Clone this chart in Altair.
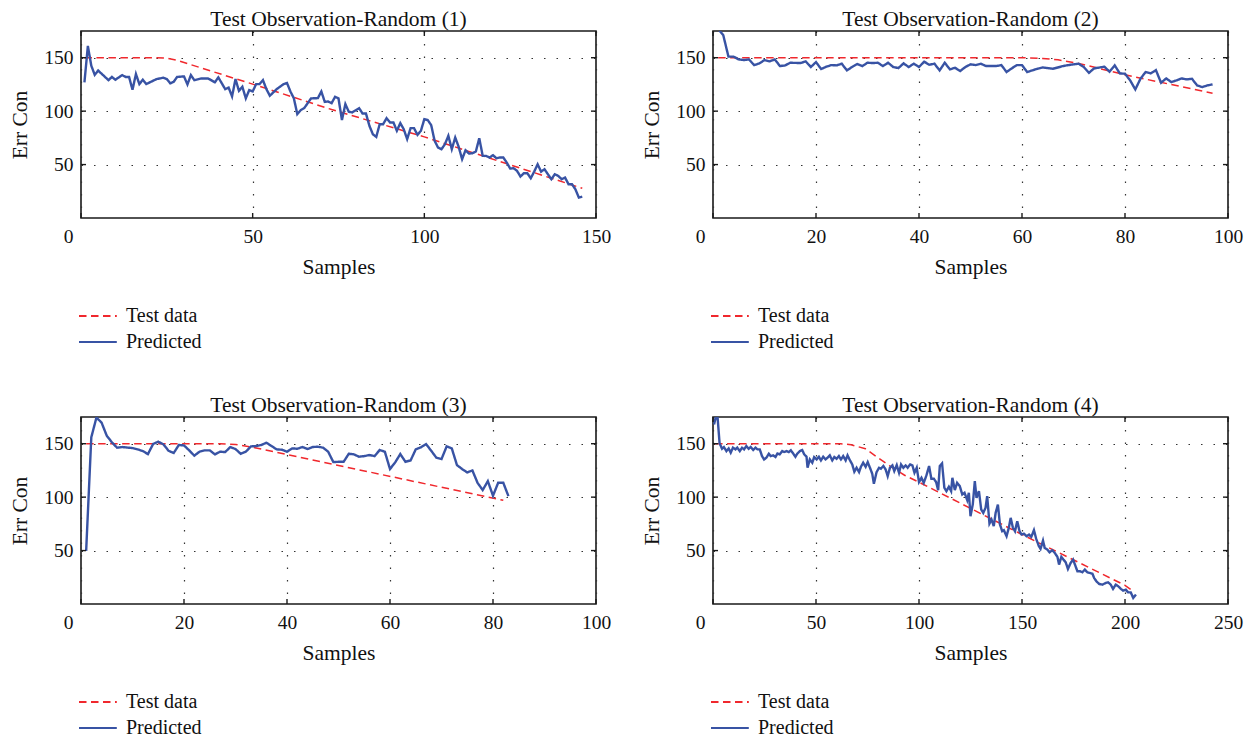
import altair as alt
import pandas as pd

FONT = "Liberation Serif"
RED = "#f0282d"
BLUE = "#3853a4"
SERIES = ["Test data", "Predicted"]
Y_TICKS = [50, 100, 150]
W, H = 515, 187

# ---------------- Panel 1 ----------------
P1_X = [1, 2, 3, 4, 5, 6, 8, 9, 10, 12, 13, 14, 15, 16, 17, 18, 19, 22, 24, 25, 26, 27, 28, 30, 31, 32, 33, 35, 37, 39,
        40, 42, 43, 44, 45, 46, 47, 48, 49, 50, 51, 52, 53, 54, 55, 57, 59, 60, 61, 62, 63, 64, 65, 67, 69, 70, 71, 72,
        73, 74, 75, 76, 77, 78, 79, 81, 82, 83, 84, 85, 86, 87, 88, 89, 90, 91, 92, 93, 94, 95, 96, 97, 98, 99, 100,
        101, 102, 103, 104, 105, 106, 107, 108, 109, 110, 111, 112, 113, 114, 115, 116, 117, 118, 119, 120, 121, 122,
        123, 124, 125, 126, 127, 128, 129, 130, 131, 132, 133, 134, 135, 136, 137, 138, 139, 140, 141, 142, 143, 144,
        145, 146]
P1_Y = [127, 161, 142.5, 134, 138, 135, 129, 132, 129.4, 133.7, 132, 132, 120, 134.7, 125.3, 129.4, 125.3, 130, 131.3,
        130, 126, 127.5, 132, 132.5, 125, 133.7, 129, 130.6, 130.6, 127, 131.6, 120.6, 122, 113.8, 130, 119, 122.8, 112,
        119.7, 118.4, 125.3, 125.3, 129, 120.6, 114.4, 120.6, 125.3, 126.3, 118.4, 112, 97.2, 101, 102.8, 111.9, 112.2,
        118.4, 108.7, 109, 107.5, 113.4, 111.9, 91.6, 106.6, 99.4, 98.8, 102.8, 97.8, 97.8, 86.3, 78.4, 75.9, 87.8,
        87.8, 93.4, 89.4, 89.4, 81.6, 88.8, 83.1, 73.8, 84.1, 84.1, 77.8, 81.6, 92.5, 91.6, 86.9, 72.2, 65.9, 64.4,
        69.1, 76.9, 64.4, 75.3, 66.6, 55, 63.4, 60.3, 60.6, 62.2, 74.7, 58.1, 58.1, 56.6, 58.8, 55.9, 56.6, 56.6, 51.9,
        46.3, 46.6, 44.1, 38.8, 41.9, 41.9, 37.2, 43.4, 50.3, 43.4, 45.6, 40.9, 36.3, 40.9, 39.4, 36.3, 37.8, 31.6, 31.6,
        26.9, 19.1, 20]
T1_X = [1, 22, 25, 28, 50, 73, 100, 146]
T1_Y = [150, 150, 149.5, 147.5, 125.3, 101.5, 75.9, 27.8]

# ---------------- Panel 2 ----------------
P2_X = [1, 2, 3, 4, 5, 6, 7, 8, 9, 10, 11, 12, 13, 14, 15, 17, 18, 19, 20, 21, 22, 23, 24, 25, 26, 27, 28, 29, 30, 31,
        32, 33, 34, 35, 36, 37, 38, 39, 40, 41, 42, 43, 44, 45, 46, 47, 48, 49, 50, 51, 52, 53, 55, 56, 57, 58, 59, 60,
        61, 63, 64, 66, 68, 69, 71, 72, 73, 74, 76, 77, 78, 79, 80, 81, 82, 83, 84, 85, 86, 87, 88, 89, 90, 91, 92, 93,
        94, 95, 96, 97]
P2_Y = [177, 171, 151, 151, 148.4, 147.8, 148.4, 143, 144.7, 147.8, 146.6, 148.4, 142.2, 142.8, 145.3, 145, 146.6,
        141.3, 145.9, 139.4, 141.6, 143.1, 142.8, 144.4, 138.1, 141.3, 144.1, 142.2, 145.3, 145, 145.3, 142.2, 145.3,
        141.3, 140.3, 144.7, 141.3, 144.4, 141.3, 146.3, 143.4, 144.4, 138.1, 145.3, 139.1, 140.6, 137.5, 141.3, 143.8,
        143.1, 144.4, 142.2, 142.2, 143.1, 136.6, 140, 143.1, 143.1, 136.6, 139.7, 140.9, 139.7, 142.2, 143.1, 144.4,
        141.3, 135.9, 140, 141.6, 136.9, 142.8, 135.3, 135, 128.8, 120.3, 130.3, 136.6, 135.3, 138.4, 126.6, 130.6,
        127.2, 128.8, 130.6, 129.7, 130.3, 124.1, 122.5, 124.1, 125]
T2_X = [1, 60, 64, 67, 71, 80, 97]
T2_Y = [150, 150, 149.3, 148, 144.7, 134, 116.8]

# ---------------- Panel 3 ----------------
P3_X = [1, 2, 3, 4, 5, 6, 7, 8, 10, 11, 12, 13, 14, 15, 16, 17, 18, 19, 20, 21, 22, 23, 24, 25, 26, 27, 28, 29, 30, 31,
        32, 33, 34, 35, 36, 37, 38, 39, 40, 41, 42, 43, 44, 45, 46, 47, 48, 49, 50, 51, 52, 53, 54, 55, 56, 57, 58, 59,
        60, 61, 62, 63, 64, 65, 66, 67, 68, 69, 70, 71, 72, 73, 74, 75, 76, 77, 78, 79, 80, 81, 82, 83]
P3_Y = [49.7, 156, 174.5, 169.7, 157.5, 151.3, 146.3, 146.9, 145.9, 144.7, 143.1, 140.3, 149.7, 151.9, 149.4, 143.4,
        141.3, 148.8, 148.4, 143.8, 138.8, 142.5, 143.8, 143.8, 140, 142.5, 142.2, 146.9, 145, 140.6, 142.5, 147.5,
        147.8, 148.8, 150.9, 147.8, 144.7, 144.4, 142.5, 145.6, 145.3, 146.9, 145, 146.9, 147.2, 146.3, 142.5, 132.8,
        133.1, 133.1, 140.6, 140, 137.8, 138.4, 139.4, 138.4, 144.1, 142.5, 126.3, 132.5, 140.3, 133.1, 134.4, 144.7,
        146.6, 149.7, 143.4, 136.9, 135.6, 147.5, 145.6, 130, 126.3, 123.1, 125, 113.4, 106.6, 115, 101.3, 113.4,
        113.4, 100.9]
T3_X = [1, 27, 30, 34, 82]
T3_Y = [150, 150, 149.3, 146, 97]

# ---------------- Panel 4 ----------------
P4_X = [0.5, 2, 3.2, 4.4, 5.3, 6.5, 7.6, 8.6, 9.7, 10.9, 11.8, 13, 14.1, 15.1, 16.2, 17.3, 18.3, 19.5, 20.6, 21.6,
        22.7, 23.8, 24.8, 25.9, 27.1, 28, 29.2, 30.3, 31.3, 32.4, 33.6, 34.5, 35.7, 36.8, 37.8, 38.9, 40, 41, 42.2,
        43.3, 44.3, 45.4, 45.9, 47, 48.2, 49.1, 50.3, 51.4, 52.4, 53.5, 54.6, 55.6, 56.7, 57.9, 58.9, 60, 61.1, 62.1,
        63.2, 64.4, 65.3, 66.5, 67.6, 68.6, 69.7, 70.9, 71.8, 72.9, 74.1, 75.1, 76.2, 77.3, 78.1, 79.4, 80.6, 81.5,
        82.7, 83.8, 84.8, 85.9, 87.1, 88, 89.2, 90.3, 91.3, 92.4, 93.5, 94.5, 95.7, 96.8, 97.8, 98.9, 100, 101.2,
        102.3, 103.6, 104.9, 106, 107.2, 108.3, 109.3, 110.1, 111.2, 112.3, 113.3, 114.5, 115.6, 116.2, 117.4, 118.5,
        119.8, 121, 122.1, 123.4, 124.2, 125, 126.1, 127.1, 127.9, 129.1, 130.2, 131.2, 132.3, 133.1, 134.2, 135.2,
        136.3, 137.2, 138.3, 139.3, 140.4, 141.2, 142.5, 143.6, 144.5, 145.6, 146.6, 147.7, 148.8, 149.8, 150.9,
        152.2, 153.4, 154.5, 155.8, 156.9, 158.2, 159, 160.2, 161, 162.3, 163.4, 164.7, 165.9, 167.2, 168, 169.1,
        170.1, 171.2, 172.3, 173.6, 174.8, 175.7, 176.9, 178.2, 179.3, 180.5, 181.7, 182.9, 184.2, 185, 186.1, 187.4,
        189, 190.7, 191.8, 193.1, 194.2, 195.5, 196.7, 198, 199.1, 200.4, 201.5, 202.8, 204, 205.3]
P4_Y = [168, 180, 150.3, 145.3, 146.9, 143.1, 145.6, 141.6, 146.3, 144.7, 146.3, 143.1, 146.3, 144.7, 147.8, 145.3,
        146.9, 144.1, 146.3, 144.7, 144.7, 138.4, 135.3, 136.9, 140.6, 138.4, 139.1, 137.5, 140.9, 140, 143.1, 142.2,
        143.1, 142.2, 143.8, 140.9, 137.8, 140.9, 143.1, 144.1, 140, 137.8, 127.5, 135.3, 132.2, 137.5, 135.3, 137.8,
        134.4, 137.8, 135.3, 136.9, 139.1, 134.4, 137.5, 135.9, 138.4, 135.3, 138.4, 134.4, 139.1, 134.4, 130.6, 123.8,
        127.5, 123.4, 128.4, 132.2, 128.4, 132.8, 127.5, 121.9, 112.5, 123.4, 127.5, 126.6, 129.1, 125.9, 119.7, 127.5,
        129.7, 124.4, 130, 122.8, 130.6, 127.5, 129.7, 127.5, 130.6, 129.7, 122.8, 127.5, 114.1, 118.1, 113.4, 120.3,
        129.1, 117.2, 117.2, 114.1, 106.6, 129.1, 131.6, 108.8, 105.6, 109.7, 105.6, 118.1, 106.6, 113.4, 110.3, 102.5,
        104.1, 97.2, 104.1, 82.2, 93.1, 115, 99.4, 105.6, 88.4, 85.3, 90, 100.9, 75.3, 79.1, 72.8, 85.3, 93.1, 74.4,
        68.1, 69.1, 63.4, 71.3, 80.6, 71.3, 68.1, 77.5, 68.1, 65, 65.9, 63.4, 65, 62.8, 69.1, 60.9, 54.1, 51.6, 59.4,
        52.5, 50.9, 48.4, 50.3, 47.8, 44.1, 36.9, 44.1, 41.6, 39.1, 32.8, 38.4, 41.6, 36.9, 30.6, 30.6, 29.7, 32.2,
        29.7, 29.1, 28.4, 24.4, 21.3, 18.8, 18.1, 19.7, 20.3, 18.1, 14.1, 18.1, 16.6, 14.1, 12.5, 13.4, 10.9, 10.9,
        5.6, 8.8]
T4_X = [1, 62, 67, 74, 80, 86, 93, 101, 149, 200, 204]
T4_Y = [150, 150, 149, 145.3, 137, 129, 120.5, 113, 66, 17.5, 12]

PANELS = [
    ("Test Observation-Random (1)", P1_X, P1_Y, T1_X, T1_Y, 150, [0, 50, 100, 150]),
    ("Test Observation-Random (2)", P2_X, P2_Y, T2_X, T2_Y, 100, [0, 20, 40, 60, 80, 100]),
    ("Test Observation-Random (3)", P3_X, P3_Y, T3_X, T3_Y, 100, [0, 20, 40, 60, 80, 100]),
    ("Test Observation-Random (4)", P4_X, P4_Y, T4_X, T4_Y, 250, [0, 50, 100, 150, 200, 250]),
]

GRID = dict(grid=True, gridColor="#333333", gridDash=[1.5, 11], gridWidth=1.2, gridOpacity=1,
            domain=False, ticks=False, labelFont=FONT, labelFontSize=19.5, labelColor="#111111",
            titleFont=FONT, titleFontSize=21.5, titleFontWeight="normal", titleColor="#111111")


def panel(title, px, py, tx, ty, xmax, xticks):
    test_df = pd.DataFrame({"x": tx, "y": ty, "series": "Test data"})
    pred_df = pd.DataFrame({"x": px, "y": py, "series": "Predicted"})
    xs = alt.Scale(domain=[0, xmax], nice=False)
    ys = alt.Scale(domain=[0, 175], nice=False)
    x_enc = alt.X("x:Q", scale=xs,
                  axis=alt.Axis(values=xticks, title="Samples", labelFlush=False, labelPadding=9,
                                titlePadding=11,
                                labelOffset={"condition": {"test": "datum.value === 0", "value": -13}, "value": 0},
                                **GRID))
    y_enc = alt.Y("y:Q", scale=ys,
                  axis=alt.Axis(values=Y_TICKS, title="Err Con", labelPadding=8, titlePadding=12, **GRID))
    color = alt.Color("series:N", scale=alt.Scale(domain=SERIES, range=[RED, BLUE]),
                      legend=alt.Legend(title=None))
    dash = alt.StrokeDash("series:N", scale=alt.Scale(domain=SERIES, range=[[7.5, 4.5], [1, 0]]),
                          legend=alt.Legend(title=None))
    red = alt.Chart(test_df).mark_line(clip=True, strokeWidth=1.5).encode(
        x=x_enc, y=y_enc, color=color, strokeDash=dash)
    blue = alt.Chart(pred_df).mark_line(clip=True, strokeWidth=2.4).encode(
        x=x_enc, y=y_enc, color=color, strokeDash=dash)

    # small inward tick marks on all four sides of the frame (same scales and axes as the lines)
    ytk = alt.Chart(pd.DataFrame({"y": Y_TICKS}))
    xtk = alt.Chart(pd.DataFrame({"x": xticks}))
    tick_style = dict(color="#1a1a1a", strokeWidth=1.4)
    yl = ytk.mark_rule(**tick_style).encode(y=y_enc, x=alt.value(0), x2=alt.value(5))
    yr = ytk.mark_rule(**tick_style).encode(y=y_enc, x=alt.value(W - 5), x2=alt.value(W))
    xb = xtk.mark_rule(**tick_style).encode(x=x_enc, y=alt.value(H - 5), y2=alt.value(H))
    xt = xtk.mark_rule(**tick_style).encode(x=x_enc, y=alt.value(0), y2=alt.value(5))

    return alt.layer(red, blue, yl, yr, xb, xt).properties(
        width=W, height=H,
        title=alt.TitleParams(title, font=FONT, fontSize=21.5, fontWeight="normal", color="#111111", offset=0),
    )


charts = [panel(*p) for p in PANELS]
ind = dict(color="independent", strokeDash="independent")
row1 = alt.hconcat(charts[0], charts[1], spacing=28).resolve_scale(**ind)
row2 = alt.hconcat(charts[2], charts[3], spacing=28).resolve_scale(**ind)
chart = alt.vconcat(row1, row2, spacing=41).resolve_scale(**ind).properties(
    padding={"left": 0, "top": 0, "right": 0, "bottom": 0}
).configure_view(
    stroke="#1a1a1a", strokeWidth=1.6
).configure_legend(
    orient="bottom", direction="vertical", offset=28, padding=0,
    labelFont=FONT, labelFontSize=20, labelColor="#111111", labelOffset=25,
    symbolType="M-2,0H4.3", symbolSize=144, symbolStrokeWidth=1.8, rowPadding=6,
)

chart.save("out.html", embed_options={"renderer": "svg", "actions": False})
